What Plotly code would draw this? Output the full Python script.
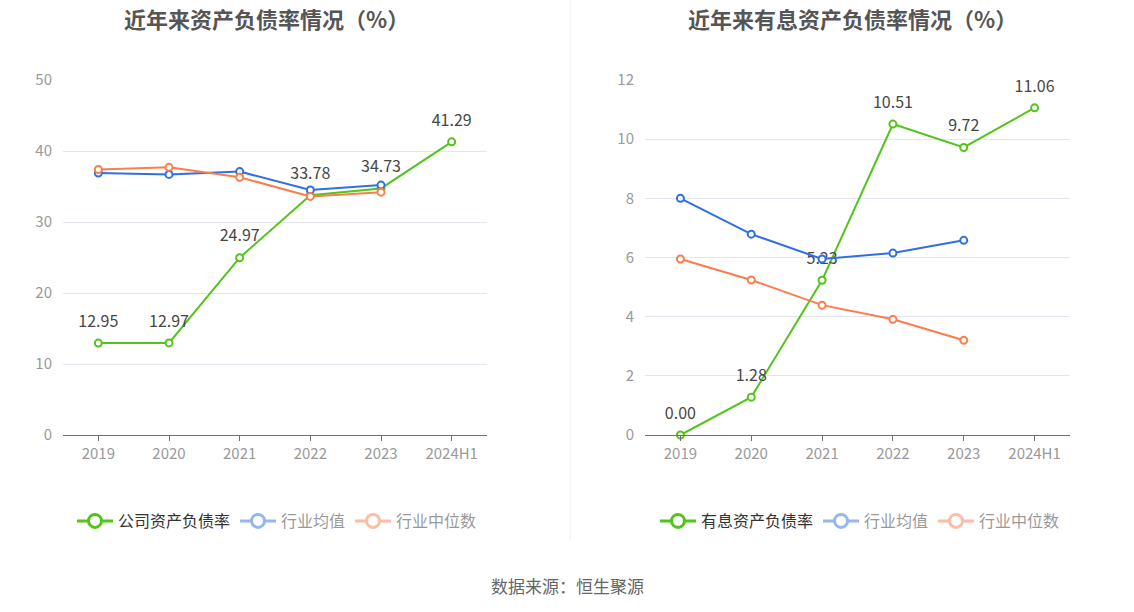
import plotly.graph_objects as go

years = ["2019", "2020", "2021", "2022", "2023", "2024H1"]

# Left chart: 资产负债率
company_debt = [12.95, 12.97, 24.97, 33.78, 34.73, 41.29]
industry_avg_debt = [36.9, 36.7, 37.1, 34.5, 35.2, None]
industry_med_debt = [37.4, 37.7, 36.3, 33.6, 34.2, None]

# Right chart: 有息资产负债率
company_int = [0.00, 1.28, 5.23, 10.51, 9.72, 11.06]
industry_avg_int = [8.0, 6.79, 5.95, 6.15, 6.58, None]
industry_med_int = [5.95, 5.24, 4.39, 3.91, 3.20, None]

GREEN = "#52c41a"
BLUE = "#2f6fe4"
ORANGE = "#fa7d4b"
FONT = "Noto Sans CJK SC"

W, H = 1134, 612


def px(x):
    return x / W


def py(y):
    return 1 - y / H


fig = go.Figure()


def add_series(x, y, name, color, xa, ya, legend, labels=False, dim=False):
    # the drawn line
    fig.add_trace(go.Scatter(
        x=x, y=y, name=name, xaxis=xa, yaxis=ya,
        mode="lines+markers",
        line=dict(color=color, width=2),
        marker=dict(size=7, color="white", line=dict(color=color, width=2)),
        cliponaxis=False, showlegend=False,
    ))
    # data labels, lifted above the points
    if labels:
        fig.add_trace(go.Scatter(
            x=x, y=y, xaxis=xa, yaxis=ya, mode="markers+text",
            marker=dict(size=18, color="rgba(0,0,0,0)", line=dict(width=0)),
            text=[f"{v:.2f}" for v in y], textposition="top center",
            textfont=dict(size=16, color="#464646", family=FONT),
            cliponaxis=False, showlegend=False, hoverinfo="skip",
        ))
    # legend entry
    fig.add_trace(go.Scatter(
        x=[None], y=[None], name=name, xaxis=xa, yaxis=ya,
        mode="lines+markers",
        line=dict(color=color, width=3),
        marker=dict(size=13, color="white", line=dict(color=color, width=3)),
        visible="legendonly" if dim else True, legend=legend,
    ))


add_series(years, company_debt, "公司资产负债率", GREEN, "x", "y", "legend", labels=True)
add_series(years, industry_avg_debt, "行业均值", BLUE, "x", "y", "legend", dim=True)
add_series(years, industry_med_debt, "行业中位数", ORANGE, "x", "y", "legend", dim=True)

add_series(years, company_int, "有息资产负债率", GREEN, "x2", "y2", "legend2", labels=True)
add_series(years, industry_avg_int, "行业均值", BLUE, "x2", "y2", "legend2", dim=True)
add_series(years, industry_med_int, "行业中位数", ORANGE, "x2", "y2", "legend2", dim=True)

xcommon = dict(
    type="category", range=[-0.5, 5.5], showgrid=False,
    showline=True, linecolor="#6e7079", linewidth=1,
    ticks="outside", ticklen=5, tickcolor="#6e7079",
    tickfont=dict(size=15, color="#999", family=FONT),
    fixedrange=True, automargin=False,
)
ycommon = dict(
    showgrid=True, gridcolor="#e3e6ee", gridwidth=1,
    zeroline=False, showline=False, ticks="",
    tickfont=dict(size=15, color="#999", family=FONT),
    domain=[py(435), py(80)], ticklabelstandoff=10, automargin=False,
    fixedrange=True,
)

legend_common = dict(
    orientation="h", xanchor="center", yanchor="middle",
    y=py(521), font=dict(size=16, color="#333", family=FONT),
    bgcolor="rgba(0,0,0,0)", itemwidth=36, tracegroupgap=0,
)

fig.update_layout(
    width=W, height=H,
    margin=dict(l=0, r=0, t=0, b=0, autoexpand=False),
    paper_bgcolor="white", plot_bgcolor="white",
    font=dict(family=FONT),
    xaxis=dict(domain=[px(63), px(487)], anchor="y", **xcommon),
    yaxis=dict(range=[0, 50], dtick=10, anchor="x", **ycommon),
    xaxis2=dict(domain=[px(645), px(1070)], anchor="y2", **xcommon),
    yaxis2=dict(range=[0, 12], dtick=2, anchor="x2", **ycommon),
    legend=dict(x=px(277), **legend_common),
    legend2=dict(x=px(860), **legend_common),
    showlegend=True,
    annotations=[
        dict(text="<b>近年来资产负债率情况（%）</b>", x=px(266), y=py(18),
             xanchor="center", yanchor="middle",
             xref="paper", yref="paper", showarrow=False,
             font=dict(size=22, color="#555", family=FONT)),
        dict(text="<b>近年来有息资产负债率情况（%）</b>", x=px(852), y=py(18),
             xanchor="center", yanchor="middle",
             xref="paper", yref="paper", showarrow=False,
             font=dict(size=22, color="#555", family=FONT)),
        dict(text="数据来源：恒生聚源", x=px(567), y=py(585),
             xanchor="center", yanchor="middle",
             xref="paper", yref="paper", showarrow=False,
             font=dict(size=17, color="#666", family=FONT)),
    ],
    shapes=[
        dict(type="line", xref="paper", yref="paper",
             x0=px(570), x1=px(570), y0=py(540), y1=1,
             line=dict(color="#eeeeee", width=1)),
    ],
)

fig.write_html(
    "out.html",
    config={"displayModeBar": False},
    post_script="document.body.style.margin='0px';document.body.style.overflow='hidden';",
)
